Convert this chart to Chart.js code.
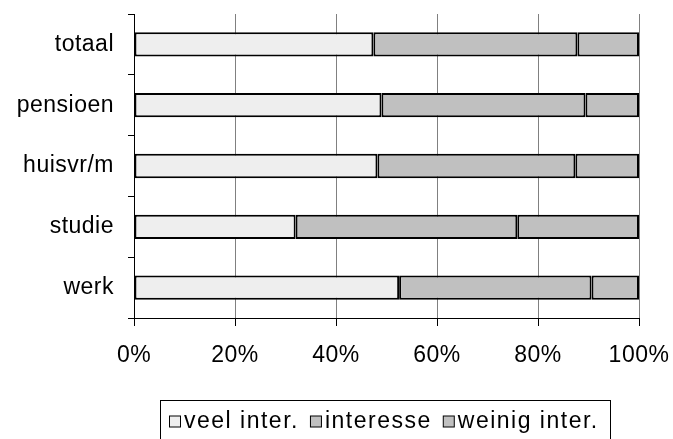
<!DOCTYPE html>
<html>
<head>
<meta charset="utf-8">
<script src="https://cdn.jsdelivr.net/npm/chart.js@4/dist/chart.umd.min.js"></script>
<style>
  html, body { margin: 0; padding: 0; background: #fff; }
  #wrap { width: 673px; height: 439px; }
</style>
</head>
<body>
<div id="wrap"><canvas id="chart" width="673" height="439"></canvas></div>
<script>
// categories top to bottom
const categories = ['totaal', 'pensioen', 'huisvr/m', 'studie', 'werk'];
const seriesNames = ['veel inter.', 'interesse', 'weinig inter.'];
// percentages per category
const veelInter = [47.4, 49.0, 48.2, 32.0, 52.5];
const interesse = [40.4, 40.4, 39.2, 43.9, 38.1];
const weinigInter = [12.2, 10.6, 12.6, 24.1, 9.4];
const xTicks = [0, 20, 40, 60, 80, 100];

const FONT = '"Liberation Sans", Arial, sans-serif';
const colors = ['#eeeeee', '#c0c0c0', '#c0c0c0'];

// slightly wider text, like the original
const spacing = {
  id: 'spacing',
  beforeUpdate(chart) { chart.ctx.letterSpacing = '0.5px'; },
  beforeDraw(chart) { chart.ctx.letterSpacing = '0.5px'; }
};

// boxed legend under the chart, drawn on the canvas
const boxLegend = {
  id: 'boxLegend',
  afterDraw(chart) {
    const ctx = chart.ctx;
    ctx.save();
    ctx.letterSpacing = '1.5px';
    ctx.font = '23px ' + FONT;
    const sq = 11, gapTxt = 4, gapItem = 11;
    const boxX = 160.5, boxY = 400.5, boxW = 450, boxH = 40;
    ctx.strokeStyle = '#000';
    ctx.lineWidth = 1;
    ctx.strokeRect(boxX, boxY, boxW, boxH);
    let x = 169;
    const cy = 421.5;
    ctx.textBaseline = 'middle';
    seriesNames.forEach((n, i) => {
      ctx.fillStyle = colors[i];
      ctx.fillRect(x + 0.5, cy - 5.5, sq, sq);
      ctx.strokeStyle = '#000';
      ctx.strokeRect(x + 0.5, cy - 5.5, sq, sq);
      x += sq + gapTxt;
      ctx.fillStyle = '#000';
      ctx.fillText(n, x, cy);
      x += ctx.measureText(n).width + gapItem;
    });
    ctx.restore();
  }
};

const data = {
  labels: categories,
  datasets: [veelInter, interesse, weinigInter].map((d, i) => ({
    label: seriesNames[i],
    data: d,
    backgroundColor: colors[i],
    borderColor: '#000',
    borderWidth: 2,
    borderSkipped: false,
    categoryPercentage: 1,
    barPercentage: 0.4,
  })),
};

new Chart(document.getElementById('chart'), {
  type: 'bar',
  data: data,
  options: {
    indexAxis: 'y',
    responsive: false,
    animation: false,
    layout: { padding: { top: 14, right: 34, left: 0, bottom: 0 } },
    plugins: { legend: { display: false }, tooltip: { enabled: false } },
    scales: {
      x: {
        stacked: true,
        min: 0,
        max: 100,
        afterFit: s => { s.height = 121; s.paddingLeft = 0; s.paddingRight = 0; },
        afterBuildTicks: s => { s.ticks = xTicks.map(v => ({ value: v })); },
        grid: { color: '#808080', lineWidth: 1, tickLength: 8, tickColor: '#000' },
        border: { display: true, color: '#000', width: 1 },
        ticks: {
          color: '#000',
          padding: 16,
          maxRotation: 0,
          font: { family: FONT, size: 23 },
          callback: v => v + '%',
        },
      },
      y: {
        stacked: true,
        afterFit: s => { s.width = 134; s.paddingTop = 0; s.paddingBottom = 0; },
        grid: { drawOnChartArea: false, tickLength: 6, color: '#000' },
        border: { display: true, color: '#000', width: 1 },
        ticks: {
          color: '#000',
          padding: 14,
          font: { family: FONT, size: 23 },
        },
      },
    },
  },
  plugins: [spacing, boxLegend],
});
</script>
</body>
</html>
